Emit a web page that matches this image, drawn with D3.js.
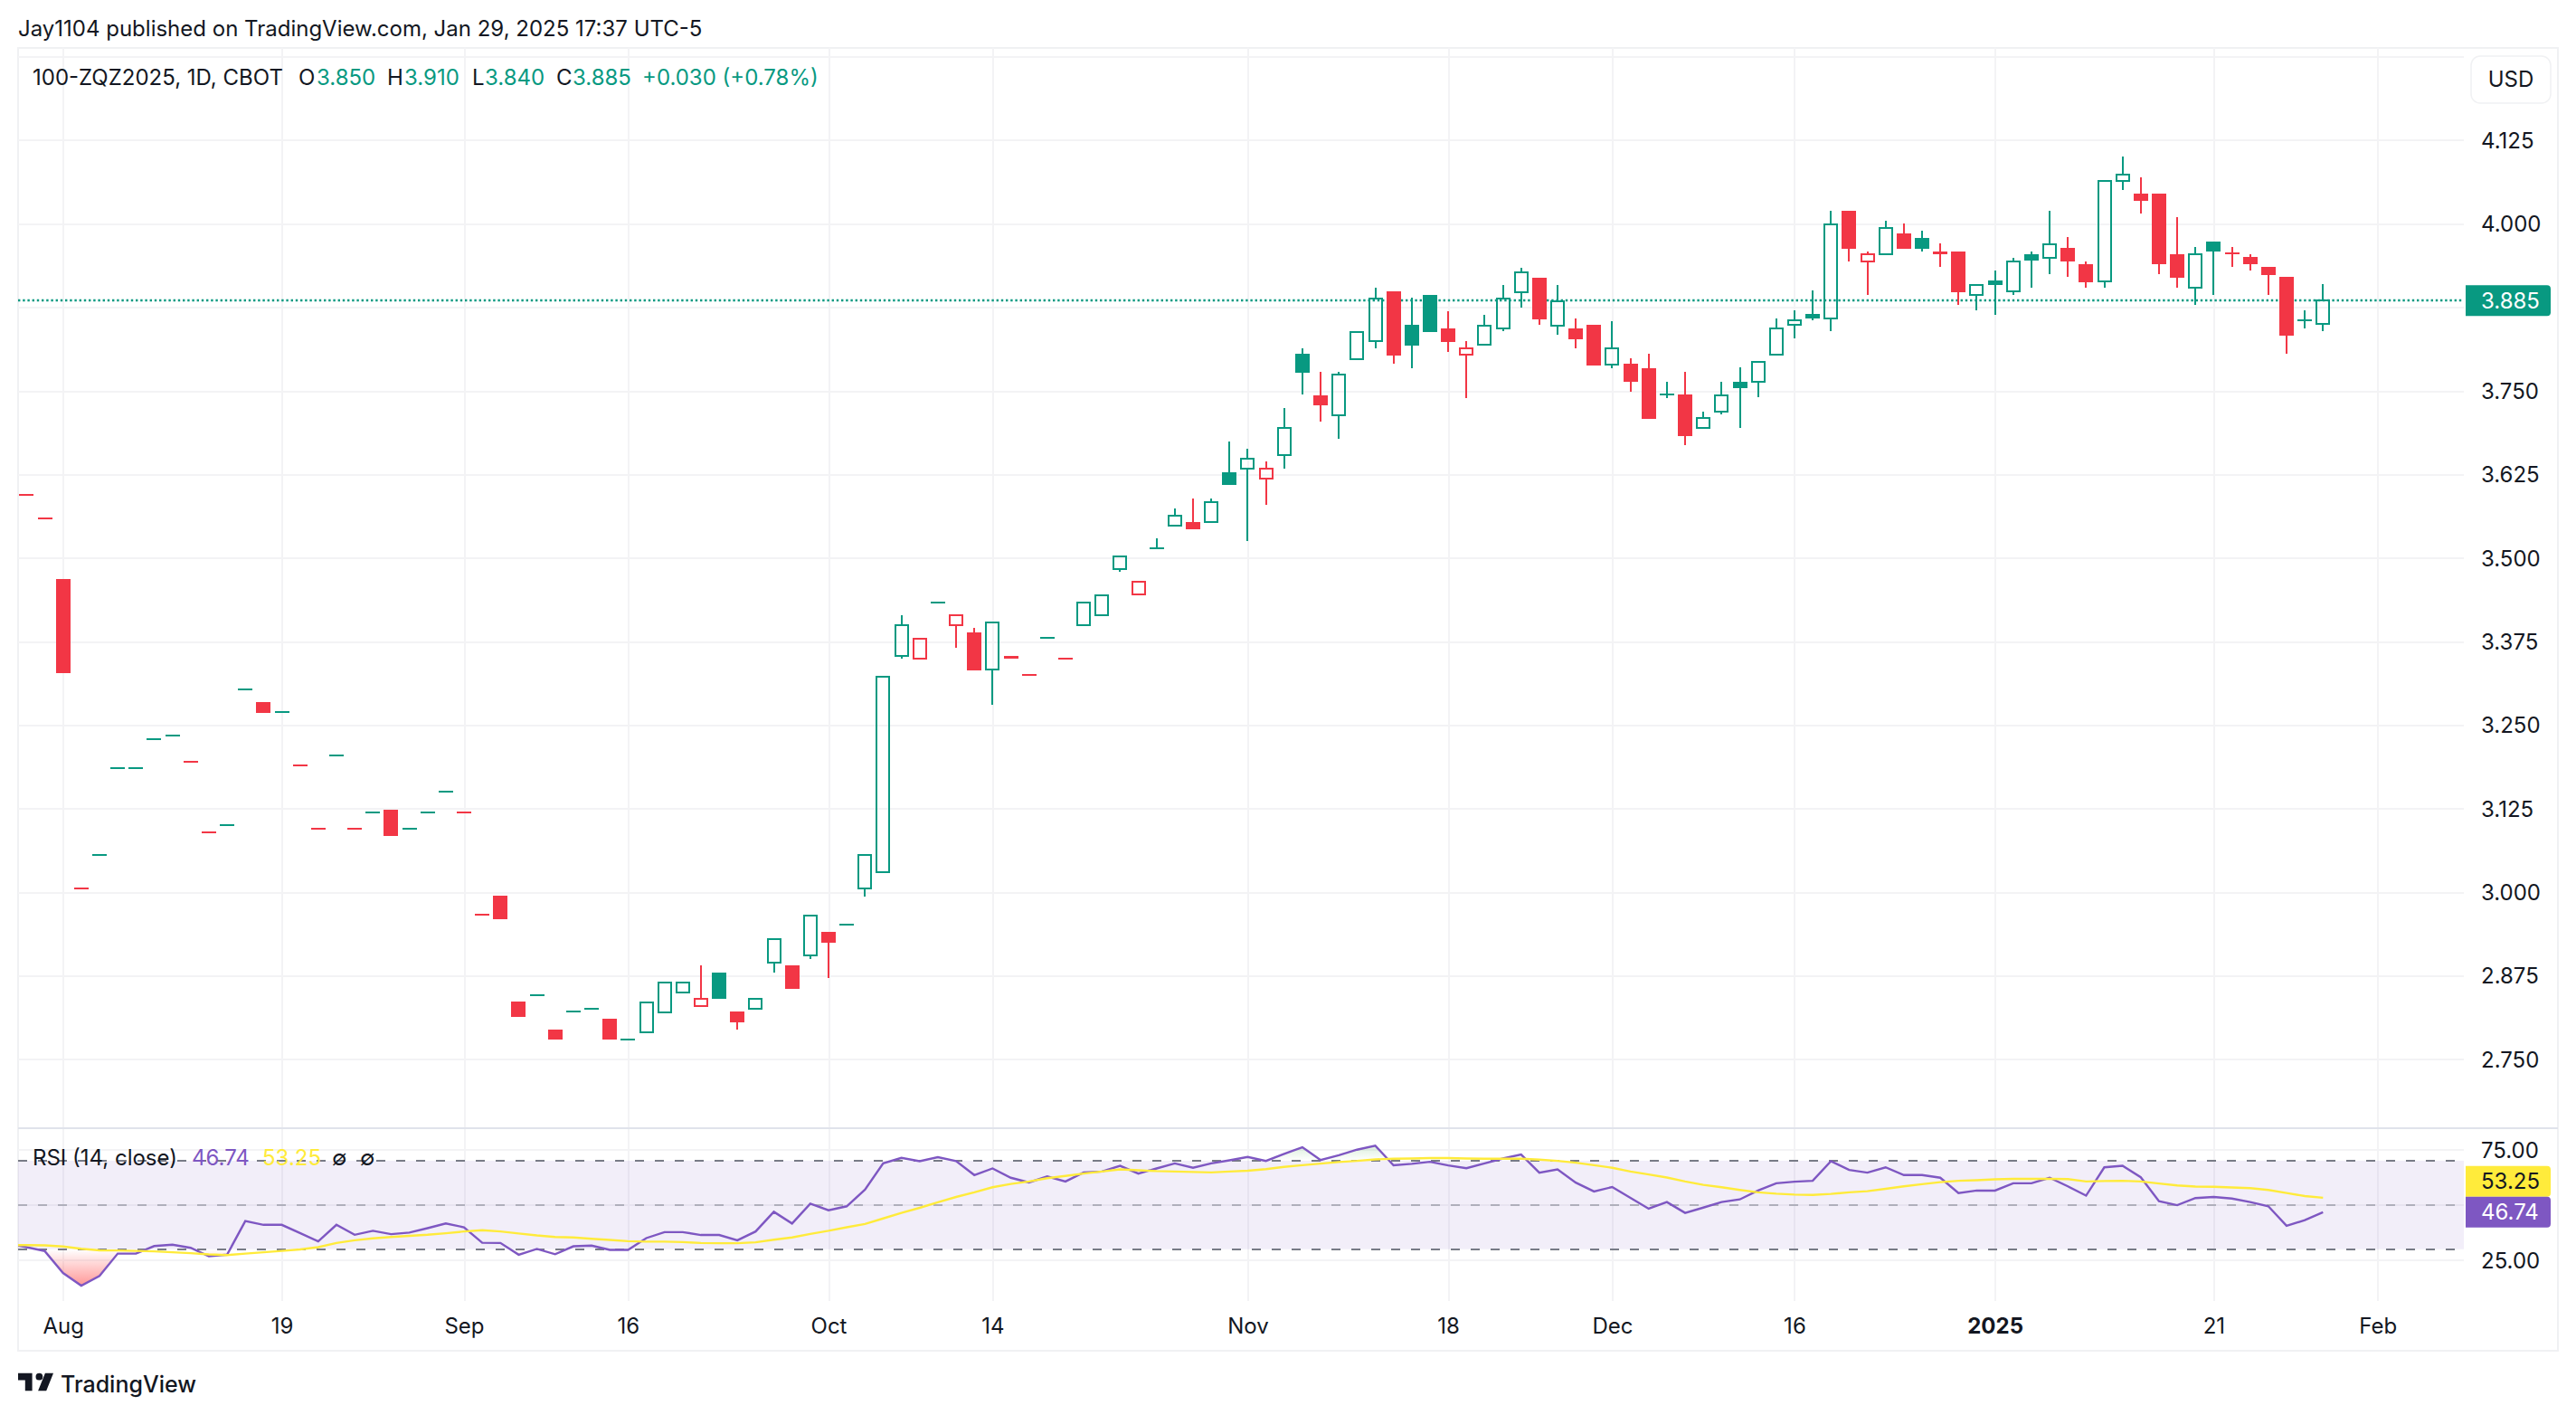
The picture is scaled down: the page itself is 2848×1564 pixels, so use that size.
<!DOCTYPE html>
<html>
<head>
<meta charset="utf-8">
<title>100-ZQZ2025</title>
<script src="https://cdn.jsdelivr.net/npm/d3@7"></script>
<style>
    html, body { margin: 0; padding: 0; background: #ffffff; }
    svg { display: block; font-family: Inter, "Noto Sans", sans-serif; }
</style>
</head>
<body>
<div id="chart"></div>
<script>
// Daily bars, Jul 30 2024 to Jan 29 2025.
var opens = [
    3.594,3.559,3.468,3.006,3.056,3.185,3.185,3.229,3.235,3.195,
    3.090,3.100,3.304,3.285,3.269,3.190,3.095,3.204,3.095,3.120,
    3.124,3.095,3.120,3.150,3.120,2.966,2.995,2.836,2.846,2.795,
    2.821,2.826,2.811,2.780,2.791,2.820,2.850,2.830,2.880,2.821,
    2.826,2.895,2.891,2.905,2.941,2.951,3.005,3.030,3.354,3.349,
    3.434,3.400,3.389,3.333,3.354,3.325,3.380,3.350,3.400,3.415,
    3.484,3.445,3.515,3.549,3.554,3.554,3.628,3.634,3.619,3.654,
    3.805,3.743,3.713,3.798,3.824,3.899,3.849,3.894,3.843,3.804,
    3.819,3.843,3.898,3.919,3.848,3.843,3.849,3.789,3.790,3.784,
    3.744,3.744,3.694,3.719,3.764,3.764,3.804,3.849,3.865,3.858,
    4.020,3.944,3.955,3.985,3.979,3.959,3.959,3.893,3.915,3.899,
    3.955,3.949,3.964,3.940,3.914,4.064,4.045,4.045,3.955,3.905,
    3.974,3.957,3.950,3.935,3.920,3.855,3.850
];
var highs = [
    3.594,3.559,3.468,3.006,3.056,3.185,3.185,3.229,3.235,3.195,
    3.090,3.100,3.304,3.285,3.269,3.190,3.095,3.204,3.095,3.120,
    3.124,3.095,3.120,3.150,3.120,2.966,2.995,2.836,2.846,2.795,
    2.821,2.826,2.811,2.780,2.835,2.865,2.865,2.891,2.880,2.821,
    2.840,2.930,2.891,2.965,2.941,2.951,3.056,3.323,3.415,3.379,
    3.434,3.414,3.395,3.403,3.354,3.325,3.380,3.350,3.433,3.444,
    3.503,3.464,3.530,3.574,3.589,3.589,3.674,3.663,3.644,3.724,
    3.813,3.779,3.779,3.838,3.904,3.899,3.889,3.894,3.869,3.824,
    3.864,3.909,3.934,3.919,3.909,3.858,3.849,3.854,3.799,3.805,
    3.764,3.779,3.719,3.764,3.785,3.794,3.859,3.870,3.900,4.020,
    4.020,3.959,4.005,4.000,3.990,3.970,3.959,3.908,3.930,3.949,
    3.959,4.020,3.980,3.944,4.064,4.100,4.070,4.045,4.010,3.965,
    3.974,3.965,3.955,3.935,3.920,3.870,3.910
];
var lows = [
    3.594,3.559,3.328,3.006,3.056,3.185,3.185,3.229,3.235,3.195,
    3.090,3.100,3.304,3.268,3.269,3.190,3.095,3.204,3.095,3.120,
    3.084,3.095,3.120,3.150,3.120,2.966,2.959,2.814,2.846,2.779,
    2.821,2.826,2.779,2.780,2.791,2.820,2.850,2.830,2.840,2.795,
    2.826,2.880,2.855,2.900,2.871,2.951,2.993,3.030,3.350,3.349,
    3.434,3.365,3.332,3.280,3.349,3.325,3.380,3.350,3.400,3.415,
    3.480,3.445,3.515,3.549,3.543,3.554,3.609,3.525,3.580,3.634,
    3.744,3.704,3.678,3.798,3.814,3.790,3.784,3.838,3.808,3.739,
    3.819,3.840,3.874,3.849,3.834,3.814,3.788,3.784,3.749,3.708,
    3.739,3.669,3.694,3.715,3.695,3.740,3.804,3.829,3.855,3.840,
    3.944,3.894,3.955,3.963,3.959,3.935,3.879,3.870,3.864,3.894,
    3.905,3.924,3.920,3.905,3.905,4.050,4.015,3.924,3.905,3.879,
    3.894,3.935,3.930,3.894,3.805,3.844,3.840
];
var closes = [
    3.594,3.559,3.328,3.006,3.056,3.185,3.185,3.229,3.235,3.195,
    3.090,3.100,3.304,3.268,3.269,3.190,3.095,3.204,3.095,3.120,
    3.084,3.095,3.120,3.150,3.120,2.966,2.959,2.814,2.846,2.779,
    2.821,2.826,2.779,2.780,2.835,2.865,2.865,2.840,2.840,2.805,
    2.840,2.930,2.855,2.965,2.925,2.951,3.056,3.323,3.399,3.379,
    3.434,3.414,3.332,3.403,3.349,3.325,3.380,3.350,3.433,3.444,
    3.503,3.464,3.515,3.563,3.543,3.583,3.609,3.648,3.633,3.694,
    3.777,3.728,3.774,3.838,3.888,3.803,3.818,3.838,3.823,3.813,
    3.848,3.888,3.928,3.857,3.884,3.827,3.788,3.813,3.763,3.708,
    3.744,3.683,3.709,3.743,3.754,3.794,3.843,3.855,3.858,3.999,
    3.963,3.954,3.994,3.963,3.963,3.954,3.898,3.908,3.908,3.944,
    3.945,3.969,3.943,3.913,4.064,4.074,4.034,3.939,3.919,3.954,
    3.958,3.954,3.939,3.923,3.833,3.855,3.885
];

// RSI (14) and its moving average, one value per bar.
var rsiValues = [
    30.9,29.1,19.2,13.5,17.9,28,28,31.4,32,30.6,
    26.8,27.5,42.7,41,41,37.3,33.5,41,36.5,38.3,
    36.8,37.5,39.5,41.6,39.9,32.9,32.8,27.5,30.1,27.7,
    31.3,31.6,29.7,29.7,35,37.7,37.7,36.4,36.4,34,
    38,46.9,41.6,50.6,47.6,49.4,56.9,68.8,71.3,69.8,
    71.6,69.8,63.5,66.5,62.3,60.2,62.9,60.6,64.7,65.1,
    67.7,64.2,66.5,68.8,66.8,68.8,70.2,71.7,69.9,73.1,
    76.1,70.3,72.5,75,76.8,67.9,68.6,69.5,67.9,66.6,
    68.8,71,72.8,64.6,66.1,60.1,56.1,58.1,53.2,48.3,
    51.3,46.4,48.8,51.3,52.5,56.5,59.8,60.5,60.9,69.8,
    65.8,64.6,67,63.5,63.5,62.3,55.4,56.5,56.5,59.8,
    59.8,62.3,58.4,54.2,67,67.7,62.5,51.7,49.9,53.1,
    53.6,52.9,51.3,49.4,40.6,43.1,46.74
];
var rsiMaValues = [
    31.8,31.7,31.2,30.2,29.5,29.4,29.2,29,28.6,28.2,
    27.6,27.3,28,28.6,29.2,29.9,30.9,32.8,34,34.9,
    35.5,36,36.5,37.2,38,38.6,38,37.1,36.2,35.5,
    35.3,34.7,34.2,33.6,33.4,33.4,33.2,32.8,32.7,32.7,
    33.1,34.3,35.3,36.9,38.3,39.9,41.4,43.9,46.4,48.7,
    51.2,53.6,55.7,58,59.5,60.6,62.1,63.1,64.2,65.1,
    66.1,65.7,65.3,65.1,64.9,64.7,65.1,65.5,66.2,67.2,
    68,68.7,69.4,69.9,70.6,70.9,71,71.2,71.2,71,
    70.9,70.9,70.9,70.5,69.9,69.1,68,66.8,65.1,63.8,
    62.4,60.6,59.1,58,56.8,55.7,55.1,54.7,54.5,55,
    55.7,56.2,57.3,58.4,59.4,60.3,60.9,61.2,61.6,61.8,
    61.8,61.8,61.7,60.6,60.8,60.9,60.6,59.7,58.8,58.3,
    58.2,57.9,57.6,56.8,55.4,54,53.25
];
// The lines run in from a bar left of the visible range.
var rsiBefore = 32.4;
var rsiMaBefore = 31.8;

var priceGridTicks = [2.75, 2.875, 3, 3.125, 3.25, 3.375, 3.5, 3.625, 3.75, 3.875, 4, 4.125, 4.25];
var priceTickLabels = [2.75, 2.875, 3, 3.125, 3.25, 3.375, 3.5, 3.625, 3.75, 4, 4.125];
var rsiGridTicks = [25, 50, 75];
var rsiTicks = [25, 75];
var rsiLevels = [30, 50, 70];

var timeTickBars = [2, 14, 24, 33, 44, 53, 67, 78, 87, 97, 108, 120, 129];
var timeTickLabels = ["Aug", "19", "Sep", "16", "Oct", "14", "Nov", "18", "Dec", "16", "2025", "21", "Feb"];

var lastPrice = 3.885;
var lastRsi = 46.74;
var lastRsiMa = 53.25;

var legendParts = [
    ["100-ZQZ2025, 1D, CBOT", 36, "ink"],
    ["O", 330, "ink"], ["3.850", 350, "up"],
    ["H", 428, "ink"], ["3.910", 447, "up"],
    ["L", 522, "ink"], ["3.840", 536, "up"],
    ["C", 615, "ink"], ["3.885", 633, "up"],
    ["+0.030 (+0.78%)", 710, "up"]
];
var rsiLegendParts = [
    ["RSI (14, close)", 36, "ink"],
    ["46.74", 212, "rsi"],
    ["53.25", 290, "ma"],
    ["\u2205", 367, "ink"],
    ["\u2205", 398, "ink"]
];

var colors = {
    ink: "#131722",
    up: "#089981",
    down: "#F23645",
    grid: "#F3F3F5",
    border: "#F0F1F3",
    separator: "#E0E3EB",
    rsi: "#7E57C2",
    ma: "#FFEB3B",
    level: "#787B86"
};


/**
 * Candle chart with the RSI pane below it.
 */
class ChartView {

    constructor() {
        var self = this;
        self.initialize();
        self.drawGrid();
        self.drawCandles();
        self.drawRsi();
        self.drawAxes();
        self.drawText();
    }

    initialize() {

        var self = this;

        self.width = 2848;
        self.height = 1564;
        self.left = 20;
        self.plotRight = 2724;
        self.right = 2828;
        self.top = 53;
        self.paneSplit = 1247;
        self.plotBottom = 1438;
        self.bottom = 1493;

        self.svg = d3.select("#chart").append("svg")
            .attr("width", self.width)
            .attr("height", self.height);

        self.x = d3.scaleLinear().domain([0, 126]).range([29.4, 2568.3]);
        self.yPrice = d3.scaleLinear().domain([2.647, 4.263]).range([self.paneSplit, self.top]);
        self.yRsi = d3.scaleLinear().domain([6.56, 84.7]).range([self.plotBottom, self.paneSplit]);

        self.bars = closes.map(function (c, i) {
            return {
                i: i,
                open: opens[i],
                high: highs[i],
                low: lows[i],
                close: c,
                color: i > 0 && c >= closes[i - 1] ? colors.up : colors.down
            };
        });

        var defs = self.svg.append("defs");
        defs.append("clipPath").attr("id", "plotClip").append("rect")
            .attr("x", self.left).attr("y", self.top)
            .attr("width", self.plotRight - self.left)
            .attr("height", self.plotBottom - self.top);
        defs.append("clipPath").attr("id", "belowLow").append("rect")
            .attr("x", self.left).attr("y", self.yRsi(30))
            .attr("width", self.plotRight - self.left)
            .attr("height", self.plotBottom - self.yRsi(30));
        defs.append("clipPath").attr("id", "aboveHigh").append("rect")
            .attr("x", self.left).attr("y", self.paneSplit)
            .attr("width", self.plotRight - self.left)
            .attr("height", self.yRsi(70) - self.paneSplit);

        var lowGrad = defs.append("linearGradient").attr("id", "lowFill")
            .attr("gradientUnits", "userSpaceOnUse")
            .attr("x1", 0).attr("x2", 0)
            .attr("y1", self.yRsi(30)).attr("y2", self.yRsi(d3.min(rsiValues)));
        lowGrad.append("stop").attr("offset", 0).attr("stop-color", "#FF5252").attr("stop-opacity", 0);
        lowGrad.append("stop").attr("offset", 1).attr("stop-color", "#FF5252").attr("stop-opacity", 0.6);

        var highGrad = defs.append("linearGradient").attr("id", "highFill")
            .attr("gradientUnits", "userSpaceOnUse")
            .attr("x1", 0).attr("x2", 0)
            .attr("y1", self.yRsi(70)).attr("y2", self.yRsi(d3.max(rsiValues)));
        highGrad.append("stop").attr("offset", 0).attr("stop-color", "#4CAF50").attr("stop-opacity", 0);
        highGrad.append("stop").attr("offset", 1).attr("stop-color", "#4CAF50").attr("stop-opacity", 0.2);
    }

    drawGrid() {

        var self = this;

        // Chart frame.
        self.svg.append("rect")
            .attr("x", self.left).attr("y", self.top)
            .attr("width", self.right - self.left)
            .attr("height", self.bottom - self.top)
            .attr("fill", "none")
            .attr("stroke", colors.border)
            .attr("stroke-width", 2)
            .attr("shape-rendering", "crispEdges");

        var plotWidth = self.plotRight - self.left;

        var priceGrid = self.svg.append("g")
            .attr("transform", "translate(" + self.left + ",0)")
            .call(d3.axisLeft(self.yPrice).tickValues(priceGridTicks).tickSize(-plotWidth).tickFormat(""));
        var rsiGrid = self.svg.append("g")
            .attr("transform", "translate(" + self.left + ",0)")
            .call(d3.axisLeft(self.yRsi).tickValues(rsiGridTicks).tickSize(-plotWidth).tickFormat(""));
        var timeGrid = self.svg.append("g")
            .attr("transform", "translate(0," + self.plotBottom + ")")
            .call(d3.axisBottom(self.x).tickValues(timeTickBars).tickSize(-(self.plotBottom - self.top)).tickFormat(""));

        [priceGrid, rsiGrid, timeGrid].forEach(function (g) {
            g.select(".domain").remove();
            g.selectAll("line")
                .attr("stroke", colors.grid)
                .attr("stroke-width", 2)
                .attr("shape-rendering", "crispEdges");
        });

        self.svg.append("line")
            .attr("x1", self.left).attr("x2", self.right)
            .attr("y1", self.paneSplit).attr("y2", self.paneSplit)
            .attr("stroke", colors.separator)
            .attr("stroke-width", 2)
            .attr("shape-rendering", "crispEdges");
    }

    drawCandles() {

        var self = this;

        var bodyWidth = 16;

        // Last price line sits under the candles' strokes.
        self.svg.append("line")
            .attr("x1", self.left).attr("x2", self.plotRight)
            .attr("y1", Math.round(self.yPrice(lastPrice)))
            .attr("y2", Math.round(self.yPrice(lastPrice)))
            .attr("stroke", colors.up)
            .attr("stroke-width", 2.4)
            .attr("stroke-dasharray", "2.4,2.8");

        var g = self.svg.append("g")
            .attr("clip-path", "url(#plotClip)")
            .attr("shape-rendering", "crispEdges");

        var candle = g.selectAll("g.candle").data(self.bars).enter().append("g")
            .attr("class", "candle");

        // Wicks stop at the body so hollow candles stay empty.
        candle.append("line")
            .attr("x1", function (d) { return self.x(d.i); })
            .attr("x2", function (d) { return self.x(d.i); })
            .attr("y1", function (d) { return self.yPrice(d.high); })
            .attr("y2", function (d) { return self.yPrice(Math.max(d.open, d.close)); })
            .attr("stroke", function (d) { return d.color; })
            .attr("stroke-width", 2);
        candle.append("line")
            .attr("x1", function (d) { return self.x(d.i); })
            .attr("x2", function (d) { return self.x(d.i); })
            .attr("y1", function (d) { return self.yPrice(Math.min(d.open, d.close)); })
            .attr("y2", function (d) { return self.yPrice(d.low); })
            .attr("stroke", function (d) { return d.color; })
            .attr("stroke-width", 2);

        // Filled when close is below open or flat, hollow when above.
        var solid = candle.filter(function (d) { return d.close <= d.open; });
        solid.append("rect")
            .attr("x", function (d) { return self.x(d.i) - bodyWidth / 2; })
            .attr("width", bodyWidth)
            .attr("y", function (d) {
                var h = self.yPrice(d.close) - self.yPrice(d.open);
                return h < 2 ? self.yPrice(d.open) - 1 : self.yPrice(d.open);
            })
            .attr("height", function (d) { return Math.max(2, self.yPrice(d.close) - self.yPrice(d.open)); })
            .attr("fill", function (d) { return d.color; });

        var hollow = candle.filter(function (d) { return d.close > d.open; });
        hollow.append("rect")
            .attr("x", function (d) { return self.x(d.i) - bodyWidth / 2 + 1; })
            .attr("width", bodyWidth - 2)
            .attr("y", function (d) { return self.yPrice(d.close); })
            .attr("height", function (d) { return self.yPrice(d.open) - self.yPrice(d.close); })
            .attr("fill", "none")
            .attr("stroke", function (d) { return d.color; })
            .attr("stroke-width", 2);
    }

    drawRsi() {

        var self = this;

        var g = self.svg.append("g");
        var bandTop = self.yRsi(70);
        var bandBottom = self.yRsi(30);

        g.append("rect")
            .attr("x", self.left).attr("y", bandTop)
            .attr("width", self.plotRight - self.left)
            .attr("height", bandBottom - bandTop)
            .attr("fill", colors.rsi)
            .attr("fill-opacity", 0.1);

        g.selectAll("line.level").data(rsiLevels).enter().append("line")
            .attr("class", "level")
            .attr("x1", self.left).attr("x2", self.plotRight)
            .attr("y1", function (d) { return self.yRsi(d); })
            .attr("y2", function (d) { return self.yRsi(d); })
            .attr("stroke", colors.level)
            .attr("stroke-opacity", function (d) { return d === 50 ? 0.5 : 1; })
            .attr("stroke-width", 2)
            .attr("stroke-dasharray", "10,12")
            .attr("shape-rendering", "crispEdges");

        var toPoints = function (before, values) {
            return [[-1, before]].concat(values.map(function (v, i) { return [i, v]; }));
        };
        var rsiPoints = toPoints(rsiBefore, rsiValues);
        var maPoints = toPoints(rsiMaBefore, rsiMaValues);

        var area = function (level) {
            return d3.area()
                .x(function (d) { return self.x(d[0]); })
                .y0(self.yRsi(level))
                .y1(function (d) { return self.yRsi(d[1]); });
        };
        var clipped = g.append("g").attr("clip-path", "url(#plotClip)");

        clipped.append("g").attr("clip-path", "url(#belowLow)").append("path")
            .attr("d", area(30)(rsiPoints))
            .attr("fill", "url(#lowFill)");
        clipped.append("g").attr("clip-path", "url(#aboveHigh)").append("path")
            .attr("d", area(70)(rsiPoints))
            .attr("fill", "url(#highFill)");

        var line = d3.line()
            .x(function (d) { return self.x(d[0]); })
            .y(function (d) { return self.yRsi(d[1]); });

        clipped.append("path")
            .attr("d", line(rsiPoints))
            .attr("fill", "none")
            .attr("stroke", colors.rsi)
            .attr("stroke-width", 2.4);
        clipped.append("path")
            .attr("d", line(maPoints))
            .attr("fill", "none")
            .attr("stroke", colors.ma)
            .attr("stroke-width", 2.4);
    }

    drawAxes() {

        var self = this;

        var styleAxis = function (g) {
            g.select(".domain").remove();
            g.selectAll("text")
                .attr("fill", colors.ink)
                .attr("font-size", 24)
                .attr("font-family", "Inter, sans-serif");
        };
        // Centre the digits on their tick.
        var centreText = function (g) {
            g.selectAll("text").attr("dy", ".35em");
        };

        self.svg.append("g")
            .attr("transform", "translate(2743,0)")
            .call(d3.axisRight(self.yPrice).tickValues(priceTickLabels)
                .tickSize(0).tickPadding(0).tickFormat(d3.format(".3f")))
            .call(styleAxis)
            .call(centreText);

        self.svg.append("g")
            .attr("transform", "translate(2743,0)")
            .call(d3.axisRight(self.yRsi).tickValues(rsiTicks)
                .tickSize(0).tickPadding(0).tickFormat(d3.format(".2f")))
            .call(styleAxis)
            .call(centreText);

        var labelOf = d3.scaleOrdinal().domain(timeTickBars).range(timeTickLabels);
        self.svg.append("g")
            .attr("transform", "translate(0," + (self.plotBottom + 19) + ")")
            .call(d3.axisBottom(self.x).tickValues(timeTickBars)
                .tickSize(0).tickPadding(0).tickFormat(labelOf))
            .call(styleAxis)
            .selectAll("text")
            .attr("font-weight", function (d) { return labelOf(d) === "2025" ? 700 : 400; });

        // Value tags on the right edge; the two RSI tags stack instead of overlapping.
        var tagHeight = 34;
        var tag = function (y, fill, label, textColor) {
            self.svg.append("path")
                .attr("d", "M2726," + y + "H2816a4,4 0 0 1 4,4V" + (y + tagHeight - 4) + "a4,4 0 0 1 -4,4H2726Z")
                .attr("fill", fill);
            self.svg.append("text")
                .attr("x", 2743).attr("y", y + tagHeight / 2)
                .attr("dy", ".35em")
                .attr("font-size", 24)
                .attr("fill", textColor)
                .text(label);
        };
        var rsiTagTop = self.yRsi(lastRsi) - tagHeight / 2;
        tag(self.yPrice(lastPrice) - tagHeight / 2, colors.up, d3.format(".3f")(lastPrice), "#ffffff");
        tag(rsiTagTop - tagHeight, colors.ma, d3.format(".2f")(lastRsiMa), colors.ink);
        tag(rsiTagTop, colors.rsi, d3.format(".2f")(lastRsi), "#ffffff");

        // Currency button.
        self.svg.append("rect")
            .attr("x", 2732).attr("y", 62)
            .attr("width", 88).attr("height", 52)
            .attr("rx", 10)
            .attr("fill", "#ffffff")
            .attr("stroke", colors.border)
            .attr("stroke-width", 1.5);
        self.svg.append("text")
            .attr("x", 2776).attr("y", 88)
            .attr("dy", ".35em")
            .attr("text-anchor", "middle")
            .attr("font-size", 24)
            .attr("fill", colors.ink)
            .text("USD");
    }

    drawText() {

        var self = this;

        self.svg.append("text")
            .attr("x", 20).attr("y", 32)
            .attr("dy", ".35em")
            .attr("font-size", 24)
            .attr("fill", colors.ink)
            .text("Jay1104 published on TradingView.com, Jan 29, 2025 17:37 UTC-5");

        var legend = function (parts, y) {
            self.svg.append("g").selectAll("text").data(parts).enter().append("text")
                .attr("x", function (d) { return d[1]; })
                .attr("y", y)
                .attr("dy", ".35em")
                .attr("font-size", 24)
                .attr("fill", function (d) { return colors[d[2]]; })
                .text(function (d) { return d[0]; });
        };
        legend(legendParts, 86);
        legend(rsiLegendParts, 1280);

        // Logo mark and wordmark.
        self.svg.append("path")
            .attr("transform", "translate(17.4,1510) scale(1.3)")
            .attr("d", "M14 6H2v6h6v9h6V6Zm12 15h-7l6-15h7l-6 15Zm-6-9a3 3 0 1 0 0-6 3 3 0 0 0 0 6Z")
            .attr("fill", colors.ink);
        self.svg.append("text")
            .attr("x", 67).attr("y", 1530)
            .attr("dy", ".35em")
            .attr("font-size", 25)
            .attr("font-weight", 500)
            .attr("fill", colors.ink)
            .text("TradingView");
    }
}

new ChartView();
</script>
</body>
</html>
